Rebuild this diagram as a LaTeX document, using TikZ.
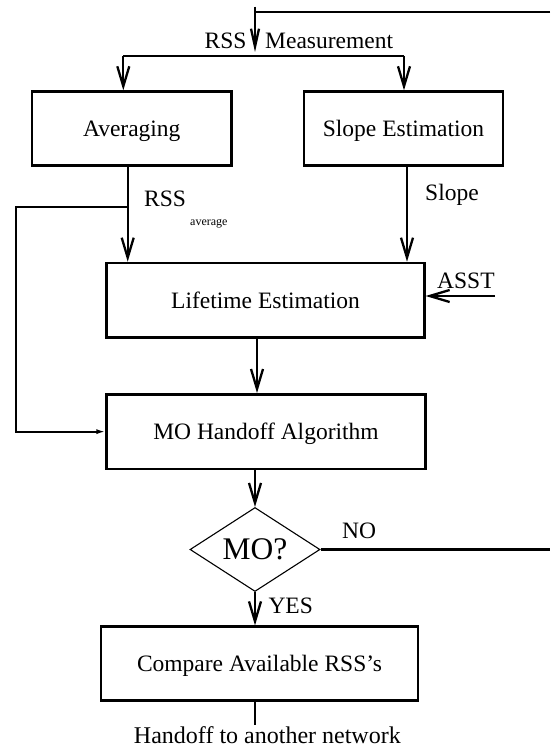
\documentclass[tikz,border=0pt]{standalone}
\usepackage{fontspec}
\setmainfont{Liberation Serif}
\usetikzlibrary{arrows.meta,shapes.geometric,calc}
\begin{document}
\begin{tikzpicture}[x=1pt,y=-1pt,
  box/.style={draw,line width=2.6pt,minimum height=74pt,inner sep=0pt,
    font=\fontsize{23.5}{28}\selectfont,text height=15.6pt,text depth=0pt},
  lbl/.style={inner sep=0pt,font=\fontsize{23.5}{28}\selectfont},
  ln/.style={line width=2.3pt},
  arr/.style={line width=2.3pt,-{Straight Barb[length=20pt,width=12pt]}},
  arrsm/.style={line width=2.3pt,-{Straight Barb[length=18pt,width=8pt]}},
  fbk/.style={line width=1.9pt,-{Latex[length=9pt,width=5pt]}}]
\useasboundingbox (0,0) rectangle (550,749);

% boxes
\node[box,minimum width=199.5pt] (avg) at (131.75,128.6) {Averaging};
\node[box,minimum width=199pt] (slope) at (403.5,128.6) {Slope Estimation};
\node[box,minimum width=317.7pt,minimum height=74.7pt] (life) at (265.5,300.35) {Lifetime Estimation};
\node[box,minimum width=318.5pt,minimum height=74.7pt] (mo) at (266,431.65) {MO Handoff Algorithm};
\node[draw,diamond,line width=1.1pt,inner sep=0pt,aspect=1.55,minimum width=130pt,minimum height=84pt,
  font=\fontsize{31.5}{36}\selectfont] (dia) at (255,549.5) {MO?};
\node[box,minimum width=317pt] (cmp) at (259.5,663.7) {Compare Available RSS's};

% coordinates
\coordinate (top) at (255,6.7);
\coordinate (tip) at (255,52);
\coordinate (corner) at (550,11.7);
\coordinate (sl) at (123.3,56);
\coordinate (sr) at (404,56);
\coordinate (ax) at (127.7,0);
\coordinate (sx) at (407,0);
\coordinate (lx) at (257,0);
\coordinate (br) at (127.7,206.7);
\coordinate (fb) at (15.7,206.7);
\coordinate (asst) at (495,296);
\coordinate (noend) at (550,549.5);
\coordinate (outend) at (255,725);

% labels
\node[lbl,anchor=base east] (rss) at (246.7,48.3) {RSS};
\node[lbl,anchor=base west] (meas) at (265,48.3) {Measurement};
\node[lbl,anchor=base west] (rssa) at (144,206.5) {RSS};
\node[inner sep=0pt,anchor=base west,font=\fontsize{12}{14}\selectfont] (avgl) at (190,225) {average};
\node[lbl,anchor=base west] (slopel) at (425,200) {Slope};
\node[lbl,anchor=base west] (asstl) at (437,288.3) {ASST};
\node[lbl,anchor=base west] (nol) at (342,538.3) {NO};
\node[lbl,anchor=base west] (yesl) at (268.3,613.3) {YES};
\node[lbl,anchor=base,font=\fontsize{24}{28}\selectfont] (hand) at (267.4,743) {Handoff to another network};

% connectors
\draw[ln] (corner) -- (top |- corner);
\draw[arrsm] (top) -- (tip);
\draw[ln] (sl) -- (sr);
\draw[arr] (sl) -- (sl |- avg.north);
\draw[arr] (sr) -- (sr |- slope.north);
\draw[arr] (avg.south -| ax) -- (life.north -| ax);
\draw[arr] (slope.south -| sx) -- (life.north -| sx);
\draw[fbk] (br) -- (fb) |- (mo.west);
\draw[arr] (asst) -- (life.east |- asst);
\draw[arr] (life.south -| lx) -- (mo.north -| lx);
\draw[arr] (mo.south -| dia) -- (dia.north);
\draw[arr] (dia.south) -- (cmp.north -| dia);
\draw[ln] (dia.east) -- (noend);
\draw[ln] (cmp.south -| outend) -- (outend);
\end{tikzpicture}
\end{document}
